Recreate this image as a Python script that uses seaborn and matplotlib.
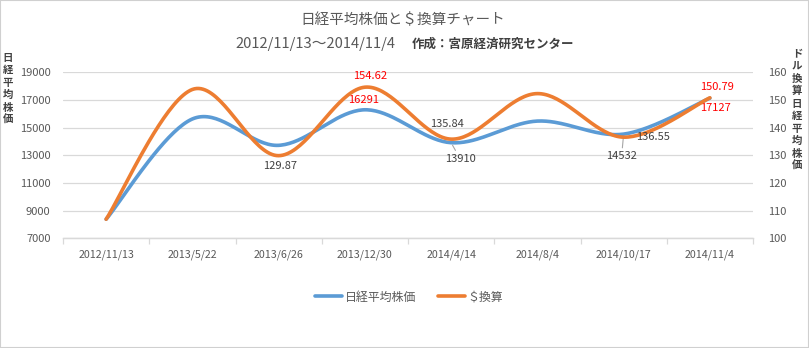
import numpy as np
import pandas as pd
import matplotlib
matplotlib.use("Agg")
import matplotlib.pyplot as plt
from matplotlib.lines import Line2D
from matplotlib.patches import Rectangle
import seaborn as sns

# ---- data -------------------------------------------------------------
dates = ["2012/11/13", "2013/5/22", "2013/6/26", "2013/12/30",
         "2014/4/14", "2014/8/4", "2014/10/17", "2014/11/4"]
nikkei = [8380, 15627, 13720, 16291, 13910, 15474, 14532, 17127]
usd_nikkei = [106.9, 153.8, 129.87, 154.62, 135.84, 152.3, 136.55, 150.79]

left_ticks = [7000, 9000, 11000, 13000, 15000, 17000, 19000]
right_ticks = [100, 110, 120, 130, 140, 150, 160]

BLUE = "#5B9BD5"
ORANGE = "#ED7D31"
GRID = "#D9D9D9"
TXT = "#595959"
DARK = "#404040"
RED = "#FF0000"

sns.set_theme(style="white")
plt.rcParams["font.family"] = ["Noto Sans CJK JP", "DejaVu Sans"]

W, H = 809, 348
fig = plt.figure(figsize=(W / 100, H / 100), dpi=100)
fig.patch.set_facecolor("white")

# plot area in pixels: x 63..753, y 72..238
ax = fig.add_axes([63 / W, 1 - 238.3 / H, 690 / W, (238.3 - 72.3) / H])
ax2 = ax.twinx()


def smooth(values, n=40):
    """Bezier smoothing through the points (control arms = neighbour span / 6)."""
    xs = np.arange(len(values), dtype=float)
    ys = np.asarray(values, dtype=float)
    px = np.concatenate([[xs[0]], xs, [xs[-1]]])
    py = np.concatenate([[ys[0]], ys, [ys[-1]]])
    out_x, out_y = [], []
    for i in range(len(values) - 1):
        p0x, p1x, p2x, p3x = px[i], px[i + 1], px[i + 2], px[i + 3]
        p0y, p1y, p2y, p3y = py[i], py[i + 1], py[i + 2], py[i + 3]
        c1x, c1y = p1x + (p2x - p0x) / 6, p1y + (p2y - p0y) / 6
        c2x, c2y = p2x - (p3x - p1x) / 6, p2y - (p3y - p1y) / 6
        t = np.linspace(0, 1, n, endpoint=(i == len(values) - 2))
        b0, b1, b2, b3 = (1 - t) ** 3, 3 * (1 - t) ** 2 * t, 3 * (1 - t) * t ** 2, t ** 3
        out_x.append(b0 * p1x + b1 * c1x + b2 * c2x + b3 * p2x)
        out_y.append(b0 * p1y + b1 * c1y + b2 * c2y + b3 * p2y)
    return np.concatenate(out_x), np.concatenate(out_y)


bx, by = smooth(nikkei)
ox, oy = smooth(usd_nikkei)
df_blue = pd.DataFrame({"x": bx, "y": by})
df_orange = pd.DataFrame({"x": ox, "y": oy})

sns.lineplot(data=df_blue, x="x", y="y", ax=ax, sort=False, estimator=None,
             color=BLUE, linewidth=2.6, solid_capstyle="round")
sns.lineplot(data=df_orange, x="x", y="y", ax=ax2, sort=False, estimator=None,
             color=ORANGE, linewidth=2.6, solid_capstyle="round")

# ---- axes ------------------------------------------------------------
for a in (ax, ax2):
    a.set_xlim(-0.5, len(dates) - 0.5)
    a.set_xlabel("")
    a.set_ylabel("")
    for s in ("top", "left", "right"):
        a.spines[s].set_visible(False)
    a.spines["bottom"].set_color(GRID)
    a.spines["bottom"].set_linewidth(0.9)
    a.patch.set_alpha(0)

ax.set_ylim(left_ticks[0], left_ticks[-1])
ax.set_yticks(left_ticks)
ax.set_yticklabels([str(v) for v in left_ticks])
ax.yaxis.grid(True, color=GRID, linewidth=0.9)
ax.xaxis.grid(False)
ax.set_axisbelow(True)
ax.tick_params(axis="y", length=0, pad=9, labelsize=8, labelcolor=TXT)

ax2.set_ylim(right_ticks[0], right_ticks[-1])
ax2.set_yticks(right_ticks)
ax2.set_yticklabels([str(v) for v in right_ticks])
ax2.tick_params(axis="y", length=0, pad=11, labelsize=8, labelcolor=TXT)
ax2.grid(False)

ax.set_xticks(range(len(dates)))
ax.set_xticklabels(dates)
ax.set_xticks(np.arange(-0.5, len(dates), 1.0), minor=True)
ax.tick_params(axis="x", which="major", length=0, pad=8, labelsize=7.7,
               labelcolor=TXT, bottom=True, labelbottom=True)
ax.tick_params(axis="x", which="minor", length=4, width=0.9, color=GRID,
               direction="out", bottom=True)
ax2.tick_params(axis="x", which="both", bottom=False, top=False,
                labelbottom=False, labeltop=False)

# ---- data labels -------------------------------------------------------
def label(a, i, values, fmt, dx, dy, color, leader=False):
    v = values[i]
    kw = dict(textcoords="offset pixels", ha="center", va="center",
              fontsize=8, color=color)
    if leader:
        kw["arrowprops"] = dict(arrowstyle="-", color="#A6A6A6", lw=0.8,
                                shrinkA=0, shrinkB=2)
    a.annotate(fmt.format(v), xy=(i, v), xytext=(dx, -dy), **kw)


label(ax2, 2, usd_nikkei, "{:.2f}", 1, 10, DARK)
label(ax2, 3, usd_nikkei, "{:.2f}", 5, -11.5, RED)
label(ax, 3, nikkei, "{:d}", -1, -10, RED)
label(ax2, 4, usd_nikkei, "{:.2f}", -4, -15, DARK)
label(ax, 4, nikkei, "{:d}", 9, 16, DARK, leader=True)
label(ax, 6, nikkei, "{:d}", -2, 22, DARK, leader=True)
label(ax2, 6, usd_nikkei, "{:.2f}", 29, 0, DARK)
label(ax2, 7, usd_nikkei, "{:.2f}", 7, -10.5, RED)
label(ax, 7, nikkei, "{:d}", 6, 10, RED)

# ---- titles ------------------------------------------------------------
def fx(px):
    return px / W


def fy(py):
    return 1 - py / H


fig.text(fx(403), fy(20), "日経平均株価と＄換算チャート", ha="center", va="center",
         fontsize=10.5, color=TXT)
fig.text(fx(395), fy(44), "2012/11/13～2014/11/4", ha="right", va="center",
         fontsize=10.6, color=TXT)
fig.text(fx(412), fy(44), "作成：宮原経済研究センター", ha="left", va="center",
         fontsize=9, color=DARK, fontweight="bold", style="italic")

fig.text(fx(8), fy(89), "\n".join("日経平均株価"), ha="center", va="center",
         fontsize=7.5, color=DARK, fontweight="bold", linespacing=1.3)
fig.text(fx(797), fy(110), "\n".join("ドル換算日経平均株価"), ha="center", va="center",
         fontsize=7.5, color=DARK, fontweight="bold", linespacing=1.3)

# ---- legend ------------------------------------------------------------
handles = [Line2D([], [], color=BLUE, linewidth=2.6, solid_capstyle="round"),
           Line2D([], [], color=ORANGE, linewidth=2.6, solid_capstyle="round")]
leg = fig.legend(handles, ["日経平均株価", "＄換算"], loc="center",
                 bbox_to_anchor=(fx(409), fy(297)), ncol=2, frameon=False,
                 fontsize=8.6, handlelength=2.3, handletextpad=0.2,
                 columnspacing=1.8, borderaxespad=0)
for t in leg.get_texts():
    t.set_color(TXT)

# chart frame
fig.patches.append(Rectangle((0, 0), 1, 1, transform=fig.transFigure, fill=False,
                             edgecolor="#D0D0D0", linewidth=1.5))

fig.savefig("out.png", dpi=100, facecolor="white")
